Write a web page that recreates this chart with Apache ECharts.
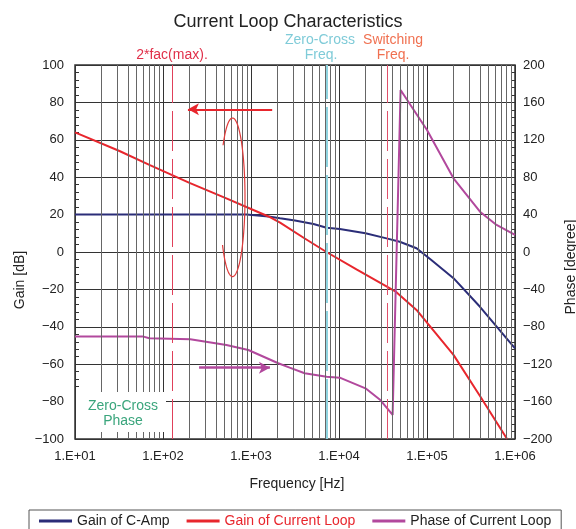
<!DOCTYPE html>
<html>
<head>
<meta charset="utf-8">
<script src="https://cdn.jsdelivr.net/npm/echarts@6/dist/echarts.min.js"></script>
<style>
  html, body { margin: 0; padding: 0; background: #fff; }
  #main { width: 576px; height: 529px; }
</style>
</head>
<body>
<div id="main"></div>
<script>
// values (frequency in Hz)
var freqCAmp = [10, 100, 890, 1580, 2140, 3160, 5130, 7240, 10200, 20000, 34700, 49000, 76000, 112000, 200000, 400000, 1000000];
var gainCAmp = [20, 20, 20, 19, 18, 16.8, 15, 13, 12.3, 10, 7.3, 5.5, 2, -4.3, -14, -29.3, -51.5];

var freqLoop = [10, 32, 71, 200, 525, 1000, 1580, 2140, 4000, 7200, 15800, 43600, 76000, 126000, 200000, 400000, 813000];
var gainLoop = [64, 54, 46.5, 37, 28.7, 23, 19, 15.7, 7.5, 0, -9.3, -21, -31, -43.5, -55, -77, -100];

var freqPhase = [10, 60, 70, 204, 525, 933, 2040, 2750, 4070, 7240, 10200, 20000, 29500, 40700, 50100, 100000, 200000, 400000, 617000, 1000000];
var phaseLoop = [-90.5, -90.5, -92.3, -93.4, -99.5, -104.8, -119, -123.7, -129.7, -133.4, -134.4, -145.8, -158.3, -174.3, 173.3, 130.5, 78.8, 43.1, 28.9, 18.2];

var facMax = 126;        // 2*fac(max)
var zeroCrossFreq = 7240;
var switchingFreq = 35400;

var decades = [10, 100, 1000, 10000, 100000];
var minorSteps = [2, 3, 4, 5, 6, 7, 8, 9];

function pairs(xs, ys) {
  var out = [];
  for (var i = 0; i < xs.length; i++) out.push([xs[i], ys[i]]);
  return out;
}

var minorLines = [];
decades.forEach(function (d) {
  minorSteps.forEach(function (m) {
    minorLines.push({ xAxis: d * m });
  });
});

// open ellipse annotation (the rotation mark), pixel space
var ellipsePts = [];
for (var a = -139; a <= 143; a += 3) {
  var t = a * Math.PI / 180;
  ellipsePts.push([232.5 + 12.5 * Math.cos(t), 197.3 + 79.3 * Math.sin(t)]);
}

var FONT = 'Liberation Sans, Arial, sans-serif';

function label(text, x, y, color, rot) {
  return {
    type: 'text', z: 11, x: x, y: y, rotation: rot || 0,
    style: { text: text, fill: color, font: '14px ' + FONT, align: 'center', verticalAlign: 'middle' }
  };
}

var chart = echarts.init(document.getElementById('main'));
var option = {
  animation: false,
  textStyle: { fontFamily: FONT },
  title: {
    text: 'Current Loop Characteristics',
    left: 'center',
    top: 8,
    textStyle: { fontSize: 18, fontWeight: 'normal', color: '#222', fontFamily: FONT }
  },
  legend: {
    left: 29,
    top: 510,
    padding: [4, 10, 10, 10],
    itemGap: 17,
    itemWidth: 33,
    itemHeight: 3,
    icon: 'rect',
    borderColor: '#555',
    borderWidth: 1,
    textStyle: { fontSize: 14, color: '#222', fontFamily: FONT },
    data: [
      { name: 'Gain of C-Amp' },
      { name: 'Gain of Current Loop', textStyle: { color: '#e8262d' } },
      { name: 'Phase of Current Loop' }
    ]
  },
  grid: {
    left: 75,
    right: 61,
    top: 65,
    bottom: 90,
    show: true,
    borderColor: '#333',
    borderWidth: 1.5
  },
  xAxis: {
    type: 'log',
    logBase: 10,
    min: 10,
    max: 1000000,
    axisLine: { show: false },
    axisTick: { show: false },
    axisLabel: {
      fontSize: 13,
      color: '#222',
      margin: 11,
      formatter: function (v) {
        var e = Math.round(Math.log10(v));
        return '1.E+' + (e < 10 ? '0' : '') + e;
      }
    },
    splitLine: { show: true, lineStyle: { color: '#333', width: 1 } }
  },
  yAxis: [
    {
      type: 'value',
      min: -100,
      max: 100,
      interval: 20,
      axisLine: { show: false },
      axisTick: { show: true, inside: true, length: 5, lineStyle: { color: '#333' } },
      minorTick: { show: true, splitNumber: 5, length: 4, lineStyle: { color: '#333' } },
      axisLabel: {
        fontSize: 13,
        color: '#222',
        margin: 11,
        formatter: function (v) { return v < 0 ? '\u2212' + (-v) : String(v); }
      },
      splitLine: { show: true, lineStyle: { color: '#333', width: 1 } }
    },
    {
      type: 'value',
      min: -200,
      max: 200,
      interval: 40,
      axisLine: { show: false },
      axisTick: { show: true, inside: true, length: 5, lineStyle: { color: '#333' } },
      minorTick: { show: true, splitNumber: 5, length: 4, lineStyle: { color: '#333' } },
      axisLabel: {
        fontSize: 13,
        color: '#222',
        margin: 8,
        formatter: function (v) { return v < 0 ? '\u2212' + (-v) : String(v); }
      },
      splitLine: { show: false }
    }
  ],
  series: [
    {
      // grid lines and frequency markers only
      name: 'grid',
      type: 'line',
      data: [],
      z: 1,
      silent: true,
      markLine: {
        silent: true,
        symbol: 'none',
        label: { show: false },
        animation: false,
        lineStyle: { color: '#666', width: 1, type: 'solid' },
        data: minorLines.concat([
          { xAxis: facMax, lineStyle: { color: '#e0405a', width: 1, type: [40, 8] } },
          { xAxis: zeroCrossFreq, lineStyle: { color: '#8fd4e0', width: 2, type: [60, 8] } },
          { xAxis: switchingFreq, lineStyle: { color: '#e0506a', width: 1, type: [40, 8] } }
        ])
      }
    },
    {
      name: 'Gain of C-Amp',
      type: 'line',
      data: pairs(freqCAmp, gainCAmp),
      showSymbol: false,
      symbol: 'none',
      color: '#2b2d78',
      lineStyle: { width: 2, color: '#2b2d78' }
    },
    {
      name: 'Gain of Current Loop',
      type: 'line',
      data: pairs(freqLoop, gainLoop),
      showSymbol: false,
      symbol: 'none',
      color: '#e8262d',
      lineStyle: { width: 2, color: '#e8262d' },
      markLine: {
        silent: true,
        symbol: ['none', 'arrow'],
        symbolSize: [9, 11],
        label: { show: false },
        lineStyle: { color: '#e8262d', width: 2, type: 'solid' },
        data: [[{ coord: [1740, 76.3] }, { coord: [192, 76.3] }]]
      }
    },
    {
      name: 'Phase of Current Loop',
      type: 'line',
      yAxisIndex: 1,
      data: pairs(freqPhase, phaseLoop),
      showSymbol: false,
      symbol: 'none',
      color: '#b2489d',
      lineStyle: { width: 2, color: '#b2489d' },
      markLine: {
        silent: true,
        symbol: ['none', 'arrow'],
        symbolSize: [9, 11],
        label: { show: false },
        lineStyle: { color: '#b2489d', width: 2.5, type: 'solid' },
        data: [[{ coord: [257, -123.7] }, { coord: [1640, -123.7] }]]
      }
    }
  ],
  graphic: [
    { type: 'polyline', z: 10, shape: { points: ellipsePts },
      style: { fill: null, stroke: '#e03a3a', lineWidth: 1.2 } },
    { type: 'rect', z: 10, shape: { x: 76, y: 392, width: 90, height: 40 }, style: { fill: '#fff' } },
    label('Zero-Cross', 123, 406, '#3aa57c'),
    label('Phase', 123, 421, '#3aa57c'),
    label('2*fac(max).', 172, 55, '#e0304a'),
    label('Zero-Cross', 320, 40, '#7fcbd8'),
    label('Freq.', 321, 55, '#7fcbd8'),
    label('Switching', 393, 40, '#f07050'),
    label('Freq.', 393, 55, '#f07050'),
    label('Gain [dB]', 20, 280, '#222', Math.PI / 2),
    label('Phase [degree]', 571, 267, '#222', Math.PI / 2),
    label('Frequency [Hz]', 297, 484, '#222')
  ]
};
chart.setOption(option);
</script>
</body>
</html>
